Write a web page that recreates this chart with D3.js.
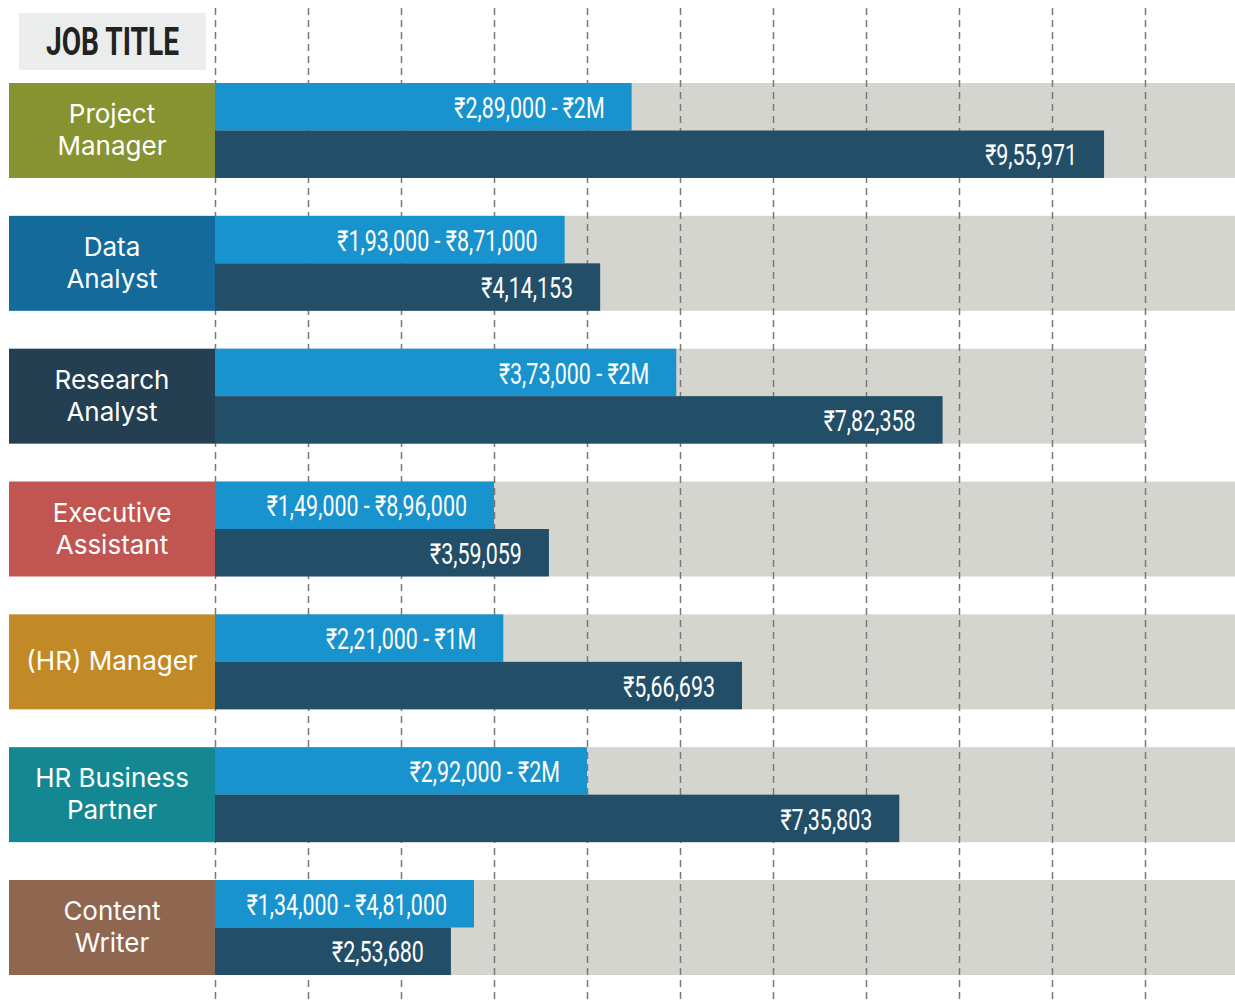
<!DOCTYPE html>
<html>
<head>
<meta charset="utf-8">
<script src="https://cdn.jsdelivr.net/npm/d3@7"></script>
<style>
  html, body { margin: 0; padding: 0; background: #ffffff; }
  svg { display: block; }
</style>
</head>
<body>
<svg id="chart" width="1235" height="1003"></svg>
<script>
// ---------- data ----------
const categories = ["Project Manager", "Data Analyst", "Research Analyst", "Executive Assistant", "(HR) Manager", "HR Business Partner", "Content Writer"];
const categoryLines = [["Project", "Manager"], ["Data", "Analyst"], ["Research", "Analyst"], ["Executive", "Assistant"], ["(HR) Manager"], ["HR Business", "Partner"], ["Content", "Writer"]];
const rangeLabels = ["₹2,89,000 - ₹2M", "₹1,93,000 - ₹8,71,000", "₹3,73,000 - ₹2M", "₹1,49,000 - ₹8,96,000", "₹2,21,000 - ₹1M", "₹2,92,000 - ₹2M", "₹1,34,000 - ₹4,81,000"];
const rangeBarValues = [448000, 376000, 496000, 300000, 310000, 400000, 278500];
const averageSalaries = [955971, 414153, 782358, 359059, 566693, 735803, 253680];
const bandExtents = [1100000, 1100000, 1000000, 1100000, 1100000, 1100000, 1100000];
const gridTicks = [0, 100000, 200000, 300000, 400000, 500000, 600000, 700000, 800000, 900000, 1000000];
const headerTitle = "JOB TITLE";
const categoryPalette = ["#879331", "#146b9b", "#233f51", "#c05552", "#c28a26", "#138893", "#8f6650"];

// ---------- helpers ----------
function formatINR(n) {
  const s = String(Math.round(n));
  if (s.length <= 3) return "₹" + s;
  const last3 = s.slice(-3);
  let rest = s.slice(0, -3);
  const parts = [];
  while (rest.length > 2) { parts.unshift(rest.slice(-2)); rest = rest.slice(0, -2); }
  if (rest.length) parts.unshift(rest);
  return "₹" + parts.join(",") + "," + last3;
}

const rows = categories.map((c, i) => ({
  name: c, lines: categoryLines[i], rangeLabel: rangeLabels[i],
  rangeBar: rangeBarValues[i], avg: averageSalaries[i], band: bandExtents[i]
}));

// ---------- scales ----------
const svg = d3.select("#chart");
const x = d3.scaleLinear().domain([0, 1000000]).range([215, 1145]);
const y = d3.scaleBand().domain(categories).range([83, 975]).paddingInner(0.285).paddingOuter(0);
const color = d3.scaleOrdinal().domain(categories).range(categoryPalette);
const half = y.bandwidth() / 2;

const valueFont = "Roboto, 'Liberation Sans', sans-serif";
const squeeze = 0.74;

// header box
svg.append("rect").attr("x", 19).attr("y", 13).attr("width", 187).attr("height", 57).attr("fill", "#ebecec");
svg.append("text").attr("x", 112.5).attr("y", 42).attr("text-anchor", "middle").attr("dominant-baseline", "central")
  .attr("font-family", valueFont).attr("font-weight", "bold").attr("font-size", 38).attr("fill", "#222222")
  .attr("textLength", 133).attr("lengthAdjust", "spacingAndGlyphs")
  .text(headerTitle);

// gray background bands
svg.append("g").selectAll("rect").data(rows).join("rect")
  .attr("x", x(0)).attr("y", d => y(d.name))
  .attr("width", d => x(d.band) - x(0)).attr("height", y.bandwidth())
  .attr("fill", "#d5d5cf");

// dashed gridlines
const axis = d3.axisTop(x).tickValues(gridTicks).tickSize(-(1003 - 8)).tickFormat("");
const gAxis = svg.append("g").attr("transform", "translate(0,8)").call(axis);
gAxis.select(".domain").remove();
gAxis.selectAll(".tick line").attr("stroke", "#7a7a7a").attr("stroke-width", 1.5).attr("stroke-dasharray", "7,5");

// range (light blue) bars
svg.append("g").selectAll("rect").data(rows).join("rect")
  .attr("x", x(0)).attr("y", d => y(d.name))
  .attr("width", d => x(d.rangeBar) - x(0)).attr("height", half)
  .attr("fill", "#1993cd");

// average (navy) bars
svg.append("g").selectAll("rect").data(rows).join("rect")
  .attr("x", x(0)).attr("y", d => y(d.name) + half)
  .attr("width", d => x(d.avg) - x(0)).attr("height", half)
  .attr("fill", "#224e68");

// value labels (condensed by horizontal squeeze)
function valueLabel(sel, xf, yf, tf) {
  sel.attr("transform", d => `translate(${xf(d)},${yf(d)}) scale(${squeeze},1)`)
    .attr("x", 0).attr("y", 0)
    .attr("text-anchor", "end").attr("dominant-baseline", "central")
    .attr("font-family", valueFont).attr("font-size", 29).attr("fill", "#ffffff")
    .text(tf);
}
svg.append("g").selectAll("text").data(rows).join("text")
  .call(valueLabel, d => x(d.rangeBar) - 27, d => y(d.name) + half / 2 + 1, d => d.rangeLabel);
svg.append("g").selectAll("text").data(rows).join("text")
  .call(valueLabel, d => x(d.avg) - 27, d => y(d.name) + half * 1.5 + 1, d => formatINR(d.avg));

// category label boxes
const cat = svg.append("g").selectAll("g").data(rows).join("g");
cat.append("rect").attr("x", 9).attr("y", d => y(d.name))
  .attr("width", x(0) - 9).attr("height", y.bandwidth())
  .attr("fill", d => color(d.name));
cat.each(function(d) {
  const g = d3.select(this);
  const n = d.lines.length;
  const lh = 32;
  d.lines.forEach((ln, k) => {
    g.append("text")
      .attr("x", 112).attr("y", y(d.name) + half + (k - (n - 1) / 2) * lh - 1)
      .attr("text-anchor", "middle").attr("dominant-baseline", "central")
      .attr("font-family", "Inter, 'Open Sans', sans-serif").attr("font-size", 26)
      .attr("fill", "#ffffff").text(ln);
  });
});
</script>
</body>
</html>
